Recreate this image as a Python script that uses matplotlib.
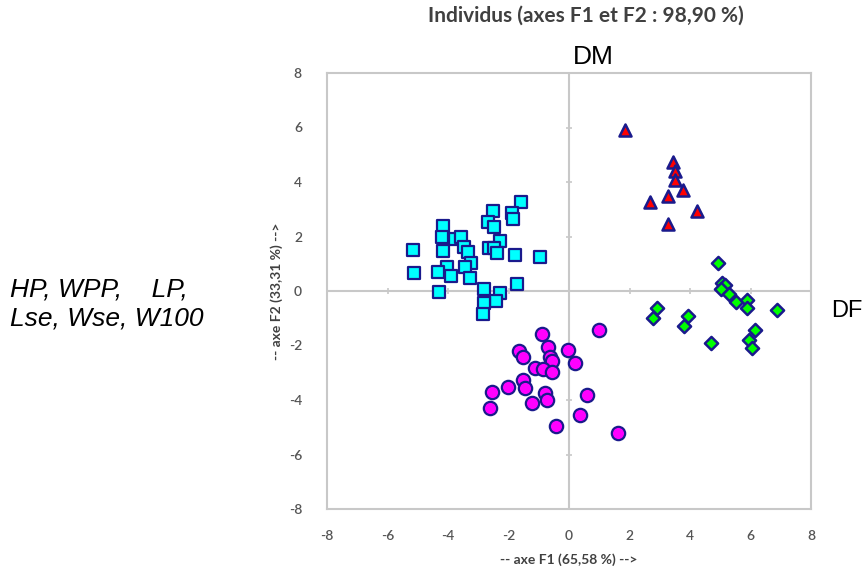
import matplotlib
matplotlib.use("Agg")
import matplotlib.pyplot as plt

# Cyan squares
sq_x = [-1.60, -2.52, -1.89, -1.86, -2.67, -2.48, -4.16, -4.19, -3.77, -3.57, -2.28, -3.46,
        -2.63, -2.48, -2.39, -5.17, -4.16, -3.33, -1.79, -0.96, -3.24, -3.44, -4.04, -4.32,
        -5.12, -3.90, -3.27, -1.71, -4.30, -2.80, -2.28, -2.41, -2.81, -2.85]
sq_y = [3.28, 2.92, 2.86, 2.65, 2.55, 2.34, 2.40, 2.00, 1.91, 1.97, 1.85, 1.63,
        1.57, 1.59, 1.41, 1.50, 1.48, 1.44, 1.31, 1.26, 1.04, 0.89, 0.89, 0.70,
        0.67, 0.55, 0.49, 0.26, -0.03, 0.07, -0.08, -0.36, -0.45, -0.86]

# Magenta circles
ci_x = [-0.90, 1.00, -1.64, -1.51, -0.70, -0.63, -0.57, -0.04, 0.20, -1.12, -0.85, -0.55,
        -1.52, -1.46, -2.02, -2.56, -0.79, -0.72, -1.23, 0.58, -2.62, 0.38, -0.43, 1.63]
ci_y = [-1.56, -1.43, -2.19, -2.44, -2.07, -2.41, -2.56, -2.17, -2.66, -2.81, -2.88, -2.97,
        -3.27, -3.57, -3.51, -3.70, -3.73, -4.00, -4.10, -3.82, -4.28, -4.56, -4.96, -5.21]

# Red triangles
tr_x = [1.85, 3.43, 3.50, 3.50, 3.78, 2.68, 3.28, 4.22, 3.26]
tr_y = [5.92, 4.72, 4.42, 4.08, 3.71, 3.28, 3.47, 2.92, 2.46]

# Green diamonds
di_x = [4.93, 5.06, 5.17, 5.01, 5.29, 5.51, 5.90, 5.90, 6.86, 3.94, 3.80, 6.15, 5.95, 6.04,
        4.68, 2.90, 2.79]
di_y = [1.04, 0.30, 0.22, 0.06, -0.12, -0.42, -0.33, -0.64, -0.70, -0.92, -1.29, -1.43,
        -1.78, -2.11, -1.90, -0.61, -1.00]

ticks = [-8, -6, -4, -2, 0, 2, 4, 6, 8]
tick_labels = ["-8", "-6", "-4", "-2", "0", "2", "4", "6", "8"]

title = "Individus (axes F1 et F2 : 98,90 %)"
xlabel = "-- axe F1 (65,58 %) -->"
ylabel = "-- axe F2 (33,31 %) -->"

fig = plt.figure(figsize=(8.67, 5.68), dpi=100)
ax = fig.add_axes([327 / 867, 1 - 509 / 568, 484 / 867, 436 / 568])

grey = "#c8c8c8"
edge = "#1a1a8c"

ax.axhline(0, color=grey, lw=1.5, zorder=1)
ax.axvline(0, color=grey, lw=1.5, zorder=1)
# small tick marks on the zero axes
ax.plot(ticks, [0] * len(ticks), linestyle="none", marker="|", ms=5, color=grey, mew=1.2, zorder=1)
ax.plot([0] * len(ticks), ticks, linestyle="none", marker="_", ms=5, color=grey, mew=1.2, zorder=1)

ax.scatter(sq_x, sq_y, marker="s", s=78, c="#00ffff", edgecolors=edge, linewidths=1.6, zorder=3)
ax.scatter(ci_x, ci_y, marker="o", s=92, c="#ff00ff", edgecolors=edge, linewidths=1.6, zorder=3)
ax.scatter(tr_x, tr_y, marker="^", s=75, c="#ff0000", edgecolors=edge, linewidths=1.8, zorder=3)
ax.scatter(di_x, di_y, marker="D", s=45, c="#00ff00", edgecolors=edge, linewidths=1.8, zorder=3)

ax.set_xlim(-8, 8)
ax.set_ylim(-8, 8)
ax.set_xticks(ticks)
ax.set_xticklabels(tick_labels)
ax.set_yticks(ticks)
ax.set_yticklabels(tick_labels)
ax.tick_params(length=0, labelsize=10, labelcolor="#555555")
ax.tick_params(axis="x", pad=15)
ax.tick_params(axis="y", pad=18)
for lab in ax.get_xticklabels() + ax.get_yticklabels():
    lab.set_family("Lato")
    lab.set_fontweight("semibold")
for sp in ax.spines.values():
    sp.set_color(grey)
    sp.set_linewidth(1.5)

ax.set_xlabel(xlabel, family="Lato", fontweight="bold", fontsize=10, color="#404040", labelpad=8)
ax.set_ylabel(ylabel, family="Lato", fontweight="bold", fontsize=10, color="#404040", labelpad=4)

fig.text(586 / 867, 1 - 16 / 568, title, ha="center", va="center", family="Lato",
         fontweight="bold", fontsize=15, color="#404040")
fig.text(593 / 867, 1 - 57 / 568, "DM", ha="center", va="center", family="Liberation Sans",
         fontsize=19, color="black")
fig.text(831 / 867, 1 - 311 / 568, "DF", ha="left", va="center", family="Liberation Sans",
         fontsize=17, color="black")
fig.text(10 / 867, 1 - 304 / 568, "HP, WPP,    LP,\nLse, Wse, W100", ha="left", va="center",
         family="Liberation Sans", style="italic", fontsize=19, color="black", linespacing=1.3)

fig.savefig("out.png", dpi=100)
